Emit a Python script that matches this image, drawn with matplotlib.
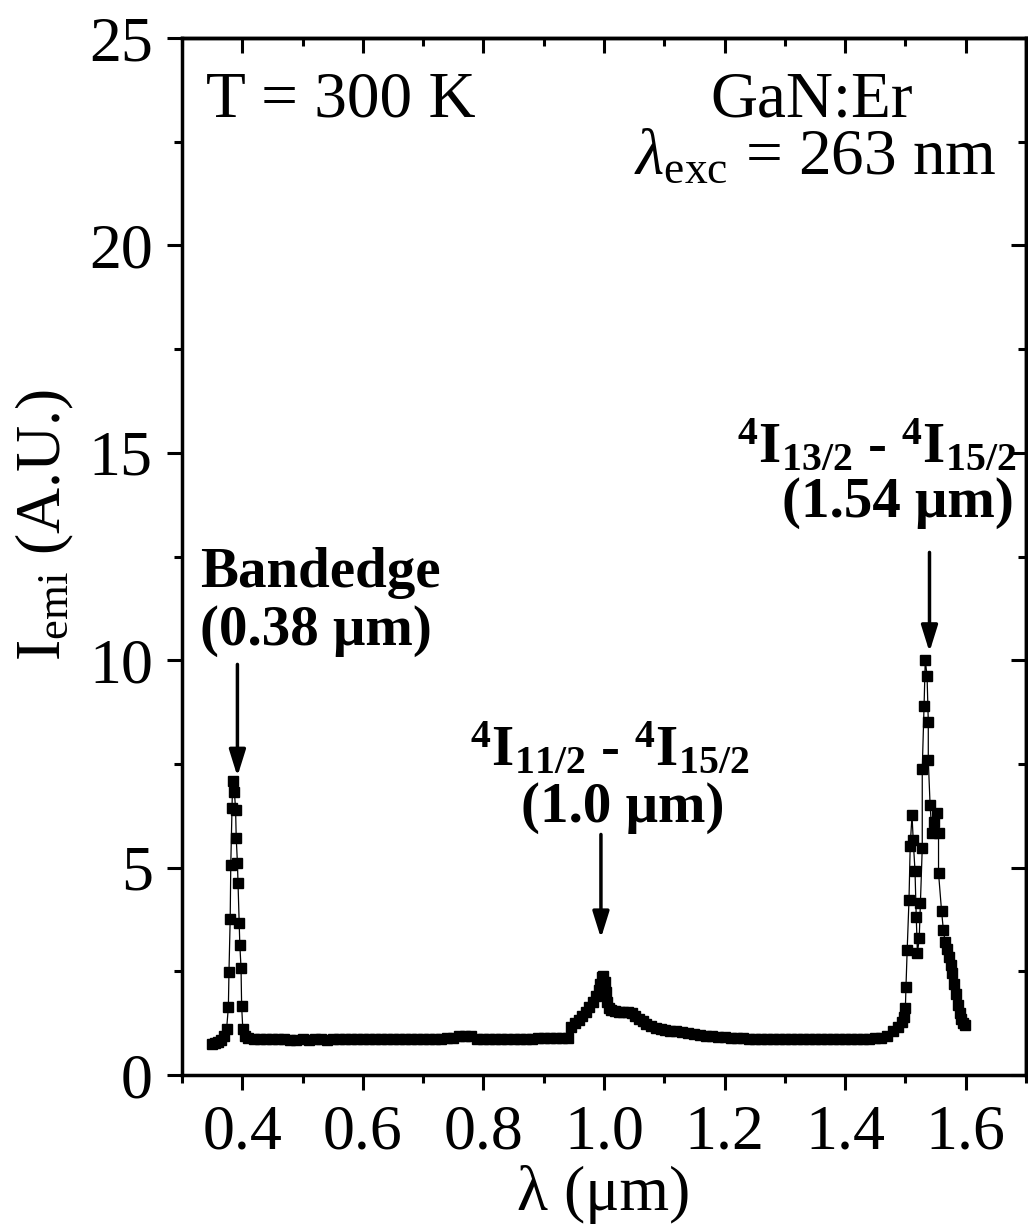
import matplotlib
matplotlib.use('Agg')
import matplotlib.pyplot as plt

# spectrum (wavelength in um, intensity in A.U.)
wl_band = [0.350, 0.355, 0.360, 0.365, 0.370, 0.374, 0.377, 0.378, 0.380, 0.381,
           0.383, 0.384, 0.387, 0.389, 0.390, 0.392, 0.393, 0.395, 0.396, 0.398,
           0.399, 0.401, 0.404]
i_band = [0.75, 0.78, 0.80, 0.85, 0.95, 1.10, 1.64, 2.49, 3.76, 5.07,
          6.44, 7.08, 6.83, 6.39, 5.72, 5.12, 4.63, 3.67, 3.14, 2.58,
          1.66, 1.10, 0.95]

wl_base1 = [0.41, 0.42, 0.43, 0.44, 0.45, 0.46, 0.47, 0.48, 0.49, 0.50,
            0.51, 0.52, 0.53, 0.54, 0.55, 0.56, 0.57, 0.58, 0.59, 0.60,
            0.61, 0.62, 0.63, 0.64, 0.65, 0.66, 0.67, 0.68, 0.69, 0.70,
            0.71, 0.72, 0.73, 0.74, 0.75, 0.76, 0.77, 0.78, 0.79, 0.80,
            0.81, 0.82, 0.83, 0.84, 0.85, 0.86, 0.87, 0.88, 0.89, 0.90,
            0.91, 0.92, 0.93, 0.94]
i_base1 = [0.90, 0.88, 0.87, 0.87, 0.86, 0.86, 0.86, 0.85, 0.85, 0.86,
           0.85, 0.86, 0.86, 0.85, 0.86, 0.86, 0.86, 0.87, 0.86, 0.87,
           0.86, 0.86, 0.87, 0.87, 0.86, 0.87, 0.87, 0.88, 0.87, 0.87,
           0.88, 0.88, 0.88, 0.89, 0.90, 0.94, 0.95, 0.93, 0.88, 0.87,
           0.87, 0.88, 0.87, 0.87, 0.88, 0.88, 0.88, 0.88, 0.89, 0.89,
           0.89, 0.89, 0.90, 0.90]

wl_1um = [0.946, 0.952, 0.958, 0.964, 0.970, 0.976, 0.982, 0.987, 0.991, 0.994,
          0.997, 0.999, 1.001, 1.003, 1.005, 1.008, 1.012, 1.018, 1.025, 1.032,
          1.040, 1.046, 1.052, 1.058, 1.064, 1.070, 1.078, 1.086, 1.094, 1.102,
          1.11, 1.12, 1.13, 1.14, 1.15, 1.16, 1.17, 1.18, 1.19, 1.20]
i_1um = [1.15, 1.25, 1.33, 1.42, 1.52, 1.63, 1.76, 1.90, 2.05, 2.20,
         2.36, 2.38, 2.25, 2.00, 1.75, 1.62, 1.58, 1.55, 1.53, 1.52,
         1.52, 1.50, 1.42, 1.35, 1.30, 1.24, 1.18, 1.14, 1.11, 1.09,
         1.07, 1.05, 1.03, 1.01, 0.98, 0.96, 0.95, 0.93, 0.92, 0.91]

wl_base2 = [1.21, 1.22, 1.23, 1.24, 1.25, 1.26, 1.27, 1.28, 1.29, 1.30,
            1.31, 1.32, 1.33, 1.34, 1.35, 1.36, 1.37, 1.38, 1.39, 1.40,
            1.41, 1.42, 1.43, 1.44, 1.45, 1.46, 1.47, 1.48, 1.488, 1.494, 1.498]
i_base2 = [0.90, 0.89, 0.89, 0.88, 0.88, 0.88, 0.87, 0.87, 0.87, 0.87,
           0.87, 0.87, 0.86, 0.87, 0.87, 0.86, 0.87, 0.87, 0.87, 0.87,
           0.87, 0.88, 0.88, 0.88, 0.89, 0.90, 0.95, 1.05, 1.15, 1.28, 1.40]

wl_154 = [1.500, 1.501, 1.503, 1.506, 1.508, 1.511, 1.513, 1.516, 1.518, 1.520,
          1.523, 1.525, 1.528, 1.528, 1.531, 1.533, 1.536, 1.538, 1.538, 1.541,
          1.544, 1.548, 1.552, 1.555, 1.555, 1.560, 1.563, 1.566, 1.569, 1.572,
          1.575, 1.578, 1.581, 1.584, 1.587, 1.590, 1.593, 1.596, 1.599]
i_154 = [1.61, 2.13, 3.02, 4.22, 5.52, 6.27, 5.67, 4.91, 3.82, 2.94,
         3.30, 4.15, 5.48, 7.38, 8.90, 10.01, 9.61, 8.52, 7.60, 6.51,
         5.84, 6.11, 6.32, 5.84, 4.87, 3.96, 3.50, 3.20, 3.05, 2.85,
         2.65, 2.45, 2.20, 1.95, 1.70, 1.50, 1.35, 1.25, 1.20]

wavelength = wl_band + wl_base1 + wl_1um + wl_base2 + wl_154
intensity = i_band + i_base1 + i_1um + i_base2 + i_154

plt.rcParams['font.family'] = ['Liberation Serif', 'DejaVu Serif']
plt.rcParams['mathtext.fontset'] = 'custom'
plt.rcParams['mathtext.rm'] = 'Liberation Serif'
plt.rcParams['mathtext.it'] = 'Liberation Serif:italic'
plt.rcParams['mathtext.bf'] = 'Liberation Serif:bold'

fig = plt.figure(figsize=(10.28, 12.32), dpi=100)
ax = fig.add_axes([0.177, 0.1274, 0.821, 0.8417])

ax.plot(wavelength, intensity, color='black', lw=0.9, marker='s',
        markersize=7, markerfacecolor='black', markeredgecolor='black')

ax.set_xlim(0.3, 1.7)
ax.set_ylim(0, 25)
ax.set_xticks([0.4, 0.6, 0.8, 1.0, 1.2, 1.4, 1.6])
ax.set_xticks([0.3, 0.5, 0.7, 0.9, 1.1, 1.3, 1.5, 1.7], minor=True)
ax.set_yticks([0, 5, 10, 15, 20, 25])
ax.set_yticks([2.5, 7.5, 12.5, 17.5, 22.5], minor=True)

for s in ax.spines.values():
    s.set_linewidth(2.5)

ax.tick_params(which='both', labelsize=46, width=2.2)
ax.tick_params(which='major', length=11, pad=10)
ax.tick_params(which='minor', length=6)
ax.tick_params(axis='x', which='both', direction='out', top=False)
ax.tick_params(axis='y', which='both', direction='out', right=False)

# mirrored ticks on top and right point inwards
sec_x = ax.secondary_xaxis('top')
sec_x.set_xticks([0.4, 0.6, 0.8, 1.0, 1.2, 1.4, 1.6])
sec_x.set_xticks([0.3, 0.5, 0.7, 0.9, 1.1, 1.3, 1.5, 1.7], minor=True)
sec_x.tick_params(which='both', direction='in', labeltop=False, width=2.2)
sec_x.tick_params(which='major', length=11)
sec_x.tick_params(which='minor', length=6)
sec_x.spines['top'].set_linewidth(2.5)
sec_y = ax.secondary_yaxis('right')
sec_y.set_yticks([0, 5, 10, 15, 20, 25])
sec_y.set_yticks([2.5, 7.5, 12.5, 17.5, 22.5], minor=True)
sec_y.tick_params(which='both', direction='in', labelright=False, width=2.2)
sec_y.tick_params(which='major', length=11)
sec_y.tick_params(which='minor', length=6)
sec_y.spines['right'].set_linewidth(2.5)

ax.set_xlabel('λ (μm)', fontsize=46, labelpad=2)
ax.set_ylabel(r'I$_{\rm emi}$ (A.U.)', fontsize=46, labelpad=6)
ax.yaxis.set_label_coords(-0.125, 0.53)

ax.text(0.34, 23.5, 'T = 300 K', fontsize=47, ha='left', va='center')
ax.text(1.345, 23.5, 'GaN:Er', fontsize=47, ha='center', va='center')
ax.text(1.652, 22.1, r'$\lambda_{\rm exc}$ = 263 nm', fontsize=47, ha='right', va='center')

bold = dict(fontsize=41, fontweight='bold', color='black')
ax.text(0.33, 12.1, 'Bandedge', ha='left', va='center', **bold)
ax.text(0.33, 10.7, '(0.38 μm)', ha='left', va='center', **bold)
ax.text(1.01, 7.85, r'$\mathbf{^4I_{11/2}}$ - $\mathbf{^4I_{15/2}}$', ha='center', va='center', **bold)
ax.text(1.031, 6.45, '(1.0 μm)', ha='center', va='center', **bold)
ax.text(1.685, 15.15, r'$\mathbf{^4I_{13/2}}$ - $\mathbf{^4I_{15/2}}$', ha='right', va='center', **bold)
ax.text(1.68, 13.8, '(1.54 μm)', ha='right', va='center', **bold)

arrow = dict(arrowstyle='-|>,head_length=0.8,head_width=0.25', lw=2.5,
             color='black', shrinkA=0, shrinkB=0, mutation_scale=20)
ax.annotate('', xy=(0.392, 7.2), xytext=(0.392, 9.9), arrowprops=arrow)
ax.annotate('', xy=(0.995, 3.3), xytext=(0.995, 5.8), arrowprops=arrow)
ax.annotate('', xy=(1.540, 10.2), xytext=(1.540, 12.6), arrowprops=arrow)

fig.savefig('out.png', dpi=100)
